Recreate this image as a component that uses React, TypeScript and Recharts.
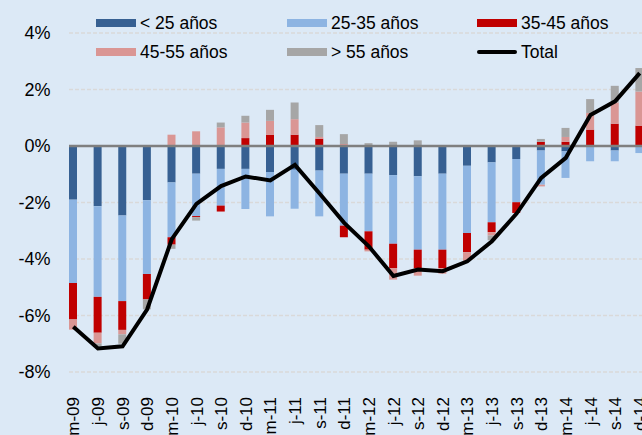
import React from 'react';
import { ComposedChart, Bar, Line, XAxis, YAxis, CartesianGrid, ReferenceLine } from 'recharts';

const categories = [
  'm-09', 'j-09', 's-09', 'd-09', 'm-10', 'j-10', 's-10', 'd-10', 'm-11', 'j-11', 's-11', 'd-11',
  'm-12', 'j-12', 's-12', 'd-12', 'm-13', 'j-13', 's-13', 'd-13', 'm-14', 'j-14', 's-14', 'd-14',
];
const under25 = [-1.9, -2.13, -2.46, -1.92, -1.29, -0.98, -0.81, -0.81, -0.92, -0.84, -0.87, -0.98, -0.98, -1.03, -1.07, -0.98, -0.7, -0.58, -0.46, -0.16, -0.19, 0, -0.16, 0];
const age25to35 = [-2.95, -3.21, -3.03, -2.61, -1.94, -1.5, -1.3, -1.42, -1.57, -1.38, -1.62, -1.84, -2.04, -2.43, -2.6, -2.69, -2.38, -2.12, -1.53, -1.21, -0.94, -0.54, -0.38, -0.25];
const age35to45 = [-1.29, -1.27, -1.02, -0.9, -0.26, -0.04, -0.21, 0.28, 0.4, 0.4, 0.26, -0.41, -0.65, -0.86, -0.65, -0.65, -0.68, -0.35, -0.38, 0.15, 0.15, 0.58, 0.79, 0.72];
const age45to55 = [-0.36, -0.38, -0.16, 0, 0.4, 0.52, 0.66, 0.55, 0.49, 0.55, 0.06, 0.07, -0.06, -0.41, -0.27, -0.2, -0.3, -0.12, 0, -0.06, 0.17, 0.59, 0.75, 1.21];
const over55 = [0, -0.1, -0.33, -0.35, -0.15, -0.12, 0.17, 0.24, 0.39, 0.59, 0.42, 0.35, 0.1, 0.15, 0.2, 0, 0, -0.17, 0, 0.1, 0.32, 0.49, 0.59, 0.83];
const total = [-6.4, -7.17, -7.09, -5.78, -3.3, -2.05, -1.42, -1.08, -1.22, -0.67, -1.68, -2.72, -3.55, -4.6, -4.37, -4.43, -4.08, -3.37, -2.39, -1.13, -0.42, 1.1, 1.58, 2.58];
const yTicks = [-8, -6, -4, -2, 0, 2, 4];

const data = categories.map((c, i) => ({
  name: c,
  u25: under25[i],
  a25: age25to35[i],
  a35: age35to45[i],
  a45: age45to55[i],
  o55: over55[i],
  total: total[i],
}));

const FONT = '"Liberation Sans", Arial, sans-serif';
const BG = '#dce9f6';
// gridlines in the original start a little right of the category band
const GRID_LEFT = 69;

const series = [
  { key: 'u25', label: '< 25 años', color: '#376092' },
  { key: 'a25', label: '25-35 años', color: '#8db4e2' },
  { key: 'a35', label: '35-45 años', color: '#c00000' },
  { key: 'a45', label: '45-55 años', color: '#da9694' },
  { key: 'o55', label: '> 55 años', color: '#a6a6a6' },
];

function XTick({ x, y, payload }: any) {
  return (
    <text
      x={x}
      y={y}
      transform={`rotate(-90, ${x}, ${y})`}
      textAnchor="end"
      dy="0.36em"
      fontSize={17}
      fontFamily={FONT}
      fill="#000"
    >
      {payload.value}
    </text>
  );
}

function ZeroLine(props: any) {
  return <line x1={GRID_LEFT} y1={props.y1} x2={props.x2} y2={props.y2} stroke="#7f7f7f" strokeWidth={2.5} />;
}

function LegendItem({ left, top, label, color, line }: { left: number; top: number; label: string; color: string; line?: boolean }) {
  return (
    <div style={{ position: 'absolute', left, top, display: 'flex', alignItems: 'center', height: 20 }}>
      <div
        style={{
          width: 40,
          height: line ? 4 : 8,
          background: color,
          borderRadius: line ? 2 : 0,
          marginRight: 4,
        }}
      />
      <span style={{ fontSize: 17.5, fontFamily: FONT, color: '#000', lineHeight: '20px', whiteSpace: 'nowrap' }}>{label}</span>
    </div>
  );
}

export default function App() {
  const cols = [96, 287, 477];
  const rows = [13, 42];
  return (
    <div style={{ position: 'fixed', left: 0, top: 0, width: 642, height: 435, overflow: 'hidden', background: BG }}>
      <ComposedChart
        width={652}
        height={435}
        data={data}
        stackOffset="sign"
        margin={{ top: 33, right: 0, bottom: 0, left: 0 }}
      >
        <CartesianGrid
          vertical={false}
          x={GRID_LEFT}
          width={652 - GRID_LEFT}
          stroke="#d9d9d9"
          strokeWidth={1.5}
          strokeDasharray="4 2"
        />
        <XAxis
          dataKey="name"
          interval={0}
          axisLine={false}
          tickLine={false}
          height={63}
          tickSize={6}
          tickMargin={19}
          padding={{ left: 5, right: 0 }}
          tick={<XTick />}
        />
        <YAxis
          domain={[-8, 4]}
          ticks={yTicks}
          width={56}
          axisLine={false}
          tickLine={false}
          tickSize={4}
          tickMargin={1.5}
          tickFormatter={(v) => `${v}%`}
          tick={{ fontSize: 18, fontFamily: FONT, fill: '#000' }}
        />
        {series.map((s) => (
          <Bar key={s.key} dataKey={s.key} stackId="a" fill={s.color} barSize={8} isAnimationActive={false} />
        ))}
        <ReferenceLine y={0} shape={ZeroLine} />
        <Line
          type="linear"
          dataKey="total"
          stroke="#000"
          strokeWidth={4}
          dot={false}
          activeDot={false}
          isAnimationActive={false}
        />
      </ComposedChart>
      {series.map((s, i) => (
        <LegendItem key={s.key} left={cols[i % 3]} top={rows[Math.floor(i / 3)]} label={s.label} color={s.color} />
      ))}
      <LegendItem left={cols[2]} top={rows[1]} label="Total" color="#000" line />
    </div>
  );
}
